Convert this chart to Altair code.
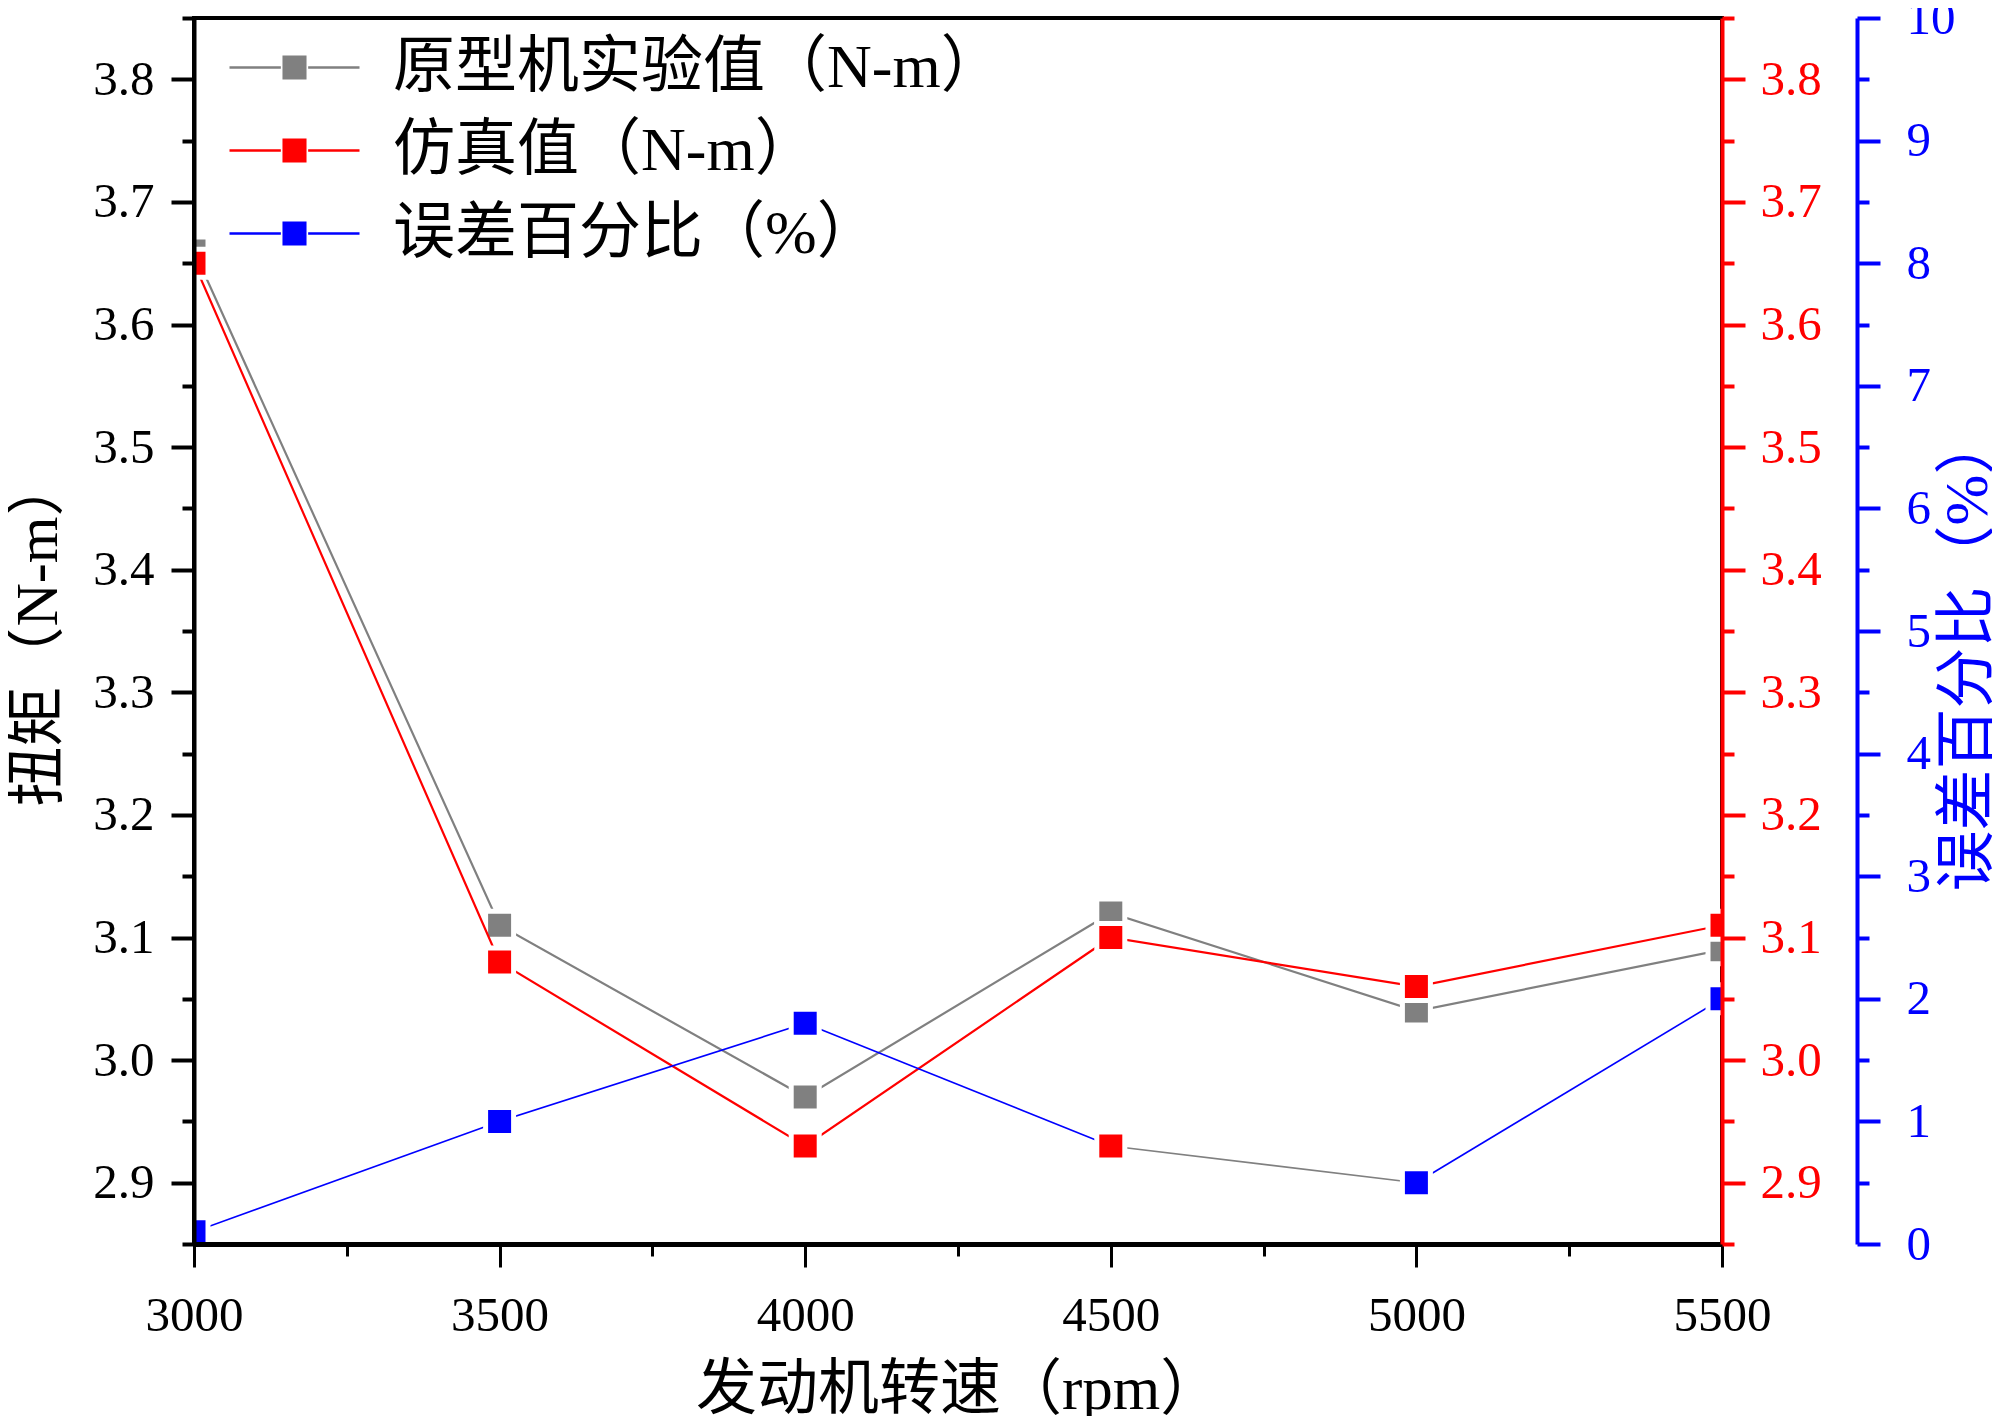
import altair as alt
import pandas as pd

# ---------------- data ----------------
rpm = [3000, 3500, 4000, 4500, 5000, 5500]
exp_vals = [3.66, 3.11, 2.97, 3.12, 3.04, 3.09]      # 原型机实验值 (N-m)
sim_vals = [3.65, 3.08, 2.93, 3.10, 3.06, 3.11]      # 仿真值 (N-m)
err_vals = [0.1, 1.0, 1.8, 0.8, 0.5, 2.0]            # 误差百分比 (%)
err_marker_colors = ["#0000ff", "#0000ff", "#0000ff", "#ff0000", "#0000ff", "#0000ff"]
err_segment_colors = ["#0000ff", "#0000ff", "#0000ff", "#808080", "#0000ff"]

series_names = ["原型机实验值（N-m）", "仿真值（N-m）", "误差百分比（%）"]
series_colors = ["#808080", "#ff0000", "#0000ff"]

x_title = "发动机转速（rpm）"
y_left_title = "扭矩（N-m）"
y_right_title = "误差百分比（%）"

x_ticks = [3000, 3250, 3500, 3750, 4000, 4250, 4500, 4750, 5000, 5250, 5500]
torque_ticks = [2.85, 2.9, 2.95, 3.0, 3.05, 3.1, 3.15, 3.2, 3.25, 3.3, 3.35,
                3.4, 3.45, 3.5, 3.55, 3.6, 3.65, 3.7, 3.75, 3.8, 3.85]
err_ticks = [0, 0.5, 1, 1.5, 2, 2.5, 3, 3.5, 4, 4.5, 5, 5.5, 6, 6.5, 7, 7.5,
             8, 8.5, 9, 9.5, 10]

df = pd.DataFrame({
    "rpm": rpm,
    "exp": exp_vals,
    "sim": sim_vals,
    "err": err_vals,
    "mcolor": err_marker_colors,
    "s_exp": [series_names[0]] * len(rpm),
    "s_sim": [series_names[1]] * len(rpm),
})
df_seg = pd.DataFrame({
    "x1": rpm[:-1], "x2": rpm[1:],
    "e1": err_vals[:-1], "e2": err_vals[1:],
    "scolor": err_segment_colors,
})

FONT = "Liberation Serif, Noto Sans CJK SC"
LABEL_SIZE = 49

major_t = "abs(datum.value*10 - round(datum.value*10)) < 0.001"


def tick_size(test):
    return {"condition": {"test": test, "value": 23}, "value": 12}


x_axis = alt.Axis(
    values=x_ticks, format="d",
    labelExpr="datum.value % 500 === 0 ? datum.label : ''",
    tickSize=tick_size("datum.value % 500 === 0"),
    tickWidth=3, tickColor="black", domainColor="black", domainWidth=5,
    labelFont=FONT, labelFontSize=LABEL_SIZE, labelColor="black", labelPadding=24,
    labelFlush=False,
    title=x_title, titleFont=FONT, titleFontSize=61, titleFontWeight="normal",
    titleColor="black", titlePadding=20, grid=False, zindex=1,
)

y_scale = alt.Scale(domain=[2.85, 3.85], nice=False, zero=False)
e_scale = alt.Scale(domain=[0, 10], nice=False, zero=True)
x_scale = alt.Scale(domain=[3000, 5500], nice=False, zero=False)


def torque_axis(orient, color, title, pad):
    kw = dict(
        orient=orient, values=torque_ticks,
        labelExpr=f"{major_t} ? format(datum.value, '.1f') : ''",
        tickSize=tick_size(major_t), tickWidth=4, tickColor=color,
        domainColor=color, domainWidth=4,
        labelFont=FONT, labelFontSize=LABEL_SIZE, labelColor=color, labelPadding=pad,
        labelFlush=False, grid=False, zindex=1,
    )
    if title:
        kw.update(title=title, titleFont=FONT, titleFontSize=60,
                  titleFontWeight="normal", titleColor=color, titlePadding=23)
    else:
        kw.update(title=None)
    return alt.Axis(**kw)


left_axis = torque_axis("left", "black", y_left_title, 17)
red_axis = torque_axis("right", "#ff0000", None, 15)

blue_axis = alt.Axis(
    orient="right", offset=135, values=err_ticks,
    labelExpr="datum.value % 1 === 0 ? format(datum.value, 'd') : ''",
    tickSize=tick_size("datum.value % 1 === 0"), tickWidth=4, tickColor="#0000ff",
    domainColor="#0000ff", domainWidth=4,
    labelFont=FONT, labelFontSize=LABEL_SIZE, labelColor="#0000ff", labelPadding=26,
    labelFlush=False, grid=False, zindex=1,
    title=y_right_title, titleFont=FONT, titleFontSize=61,
    titleFontWeight="normal", titleColor="#0000ff", titleAngle=270,
    titleX=111, titleY=634, titleAlign="center", titleBaseline="middle",
)

# legend glyph: line - square - line (path units: 1 = 32.5 px at size 4225)
legend_symbol = (
    "M-2,-0.037L-0.42,-0.037L-0.42,0.037L-2,0.037Z "
    "M-0.37,-0.37L0.37,-0.37L0.37,0.37L-0.37,0.37Z "
    "M0.42,-0.037L2,-0.037L2,0.037L0.42,0.037Z"
)
legend = alt.Legend(
    title=None, orient="none", legendX=68, legendY=17,
    symbolType=legend_symbol, symbolSize=4225, symbolStrokeWidth=0,
    symbolOpacity=1, labelFont=FONT, labelFontSize=62, labelColor="black",
    labelOffset=66, rowPadding=19, labelLimit=1000,
)
color_scale = alt.Scale(domain=series_names, range=series_colors)

X = alt.X("rpm:Q", scale=x_scale, axis=x_axis)
SQ = 784

# gray: experimental, left axis
gray_line = alt.Chart(df).mark_line(color="#808080", strokeWidth=2.2, clip=True).encode(
    x=X, y=alt.Y("exp:Q", scale=y_scale, axis=left_axis))
gray_pts = alt.Chart(df).mark_square(size=SQ, opacity=1, stroke="white", strokeWidth=5,
                                     filled=True, clip=True).encode(
    x=X, y=alt.Y("exp:Q", scale=y_scale, axis=left_axis),
    color=alt.Color("s_exp:N", scale=color_scale, legend=legend))
layer_gray = alt.layer(gray_line, gray_pts)

# red: simulation, red right axis
red_line = alt.Chart(df).mark_line(color="#ff0000", strokeWidth=2.2, clip=True).encode(
    x=X, y=alt.Y("sim:Q", scale=y_scale, axis=red_axis))
red_pts = alt.Chart(df).mark_square(size=SQ, opacity=1, stroke="white", strokeWidth=5,
                                    filled=True, clip=True).encode(
    x=X, y=alt.Y("sim:Q", scale=y_scale, axis=red_axis),
    color=alt.Color("s_sim:N", scale=color_scale, legend=legend))
layer_red = alt.layer(red_line, red_pts)

# blue: error percent, outer blue axis
err_segs = alt.Chart(df_seg).mark_rule(strokeWidth=1.6, clip=True).encode(
    x=alt.X("x1:Q", scale=x_scale, axis=x_axis), x2="x2:Q",
    y=alt.Y("e1:Q", scale=e_scale, axis=blue_axis), y2="e2:Q",
    stroke=alt.Stroke("scolor:N", scale=None))
err_pts = alt.Chart(df).mark_square(size=SQ, opacity=1, stroke="white", strokeWidth=5,
                                    filled=True, clip=True).encode(
    x=X, y=alt.Y("err:Q", scale=e_scale, axis=blue_axis),
    fill=alt.Fill("mcolor:N", scale=None))
layer_blue = alt.layer(err_segs, err_pts)

chart = (
    alt.layer(layer_gray, layer_red, layer_blue)
    .resolve_scale(y="independent")
    .properties(
        width=1528, height=1226,
        autosize=alt.AutoSizeParams(type="none"),
        padding={"left": 186, "top": 10, "right": 270, "bottom": 172},
        background="white",
    )
    .configure_view(stroke="black", strokeWidth=4)
)

chart.save("out.html", embed_options={"renderer": "svg", "actions": False})
